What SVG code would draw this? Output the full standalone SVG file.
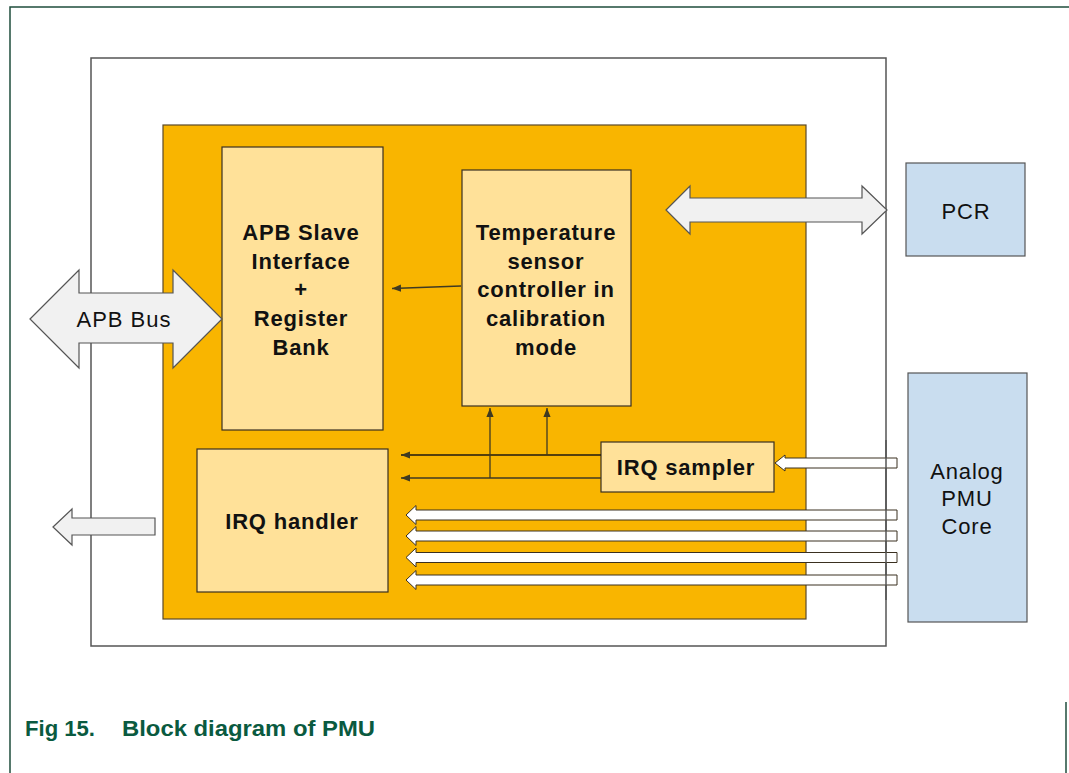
<svg xmlns="http://www.w3.org/2000/svg" width="1069" height="773" viewBox="0 0 1069 773">
<defs>
<style>
.frame{fill:none;stroke:#1f4d3d;stroke-width:1.5}
.box{fill:#ffffff;stroke:#555;stroke-width:1.5}
.core{fill:#f9b500;stroke:#5a4a2a;stroke-width:1.2}
.blk{fill:#ffe199;stroke:#3a3020;stroke-width:1.2}
.ext{fill:#c9ddef;stroke:#555;stroke-width:1.2}
.big{fill:#f1f1f1;stroke:#555;stroke-width:1.2}
.hol{fill:#ffffff;stroke:#3a3020;stroke-width:1}
.ln{fill:none;stroke:#3f3a22;stroke-width:1.3}
.bt{font-family:"Liberation Sans",Arial,sans-serif;font-weight:bold;font-size:22px;letter-spacing:0.8px;fill:#111;text-anchor:middle}
.rt{font-family:"Liberation Sans",Arial,sans-serif;font-size:22px;letter-spacing:0.8px;fill:#111;text-anchor:middle}
.cap{font-family:"Liberation Sans",Arial,sans-serif;font-weight:bold;font-size:22px;fill:#0a5a40}
</style>
<marker id="ah" viewBox="0 0 10 10" refX="10" refY="5" markerWidth="9" markerHeight="9" markerUnits="userSpaceOnUse" orient="auto">
<path d="M0,1 L10,5 L0,9 Z" fill="#3f3a22"/>
</marker>
</defs>
<path class="frame" d="M10,773 L10,7 L1069,7"/>
<line class="frame" x1="1066" y1="702" x2="1066" y2="773"/>
<g id="pmu-outer"><rect class="box" x="91" y="58" width="795" height="588"/></g>
<g id="pmu-core"><rect class="core" x="163" y="125" width="643" height="494"/></g>
<g id="apb-slave">
<rect class="blk" x="222" y="147" width="161" height="283"/>
<text class="bt" x="301" y="240">APB Slave</text>
<text class="bt" x="301" y="269">Interface</text>
<text class="bt" x="301" y="297">+</text>
<text class="bt" x="301" y="326">Register</text>
<text class="bt" x="301" y="355">Bank</text>
</g>
<g id="temp-sensor">
<rect class="blk" x="462" y="170" width="169" height="236"/>
<text class="bt" x="546" y="240">Temperature</text>
<text class="bt" x="546" y="269">sensor</text>
<text class="bt" x="546" y="297">controller in</text>
<text class="bt" x="546" y="326">calibration</text>
<text class="bt" x="546" y="355">mode</text>
</g>
<g id="irq-handler">
<rect class="blk" x="197" y="449" width="191" height="143"/>
<text class="bt" x="292" y="529">IRQ handler</text>
</g>
<g id="irq-sampler">
<rect class="blk" x="601" y="442" width="173" height="50"/>
<text class="bt" x="686" y="475">IRQ sampler</text>
</g>
<g id="pcr">
<rect class="ext" x="906" y="163" width="119" height="93"/>
<text class="rt" x="966" y="219">PCR</text>
</g>
<g id="analog-pmu-core">
<rect class="ext" x="908" y="373" width="119" height="249"/>
<text class="rt" x="967" y="479">Analog</text>
<text class="rt" x="967" y="506">PMU</text>
<text class="rt" x="967" y="534">Core</text>
</g>
<g id="connectors">
<line class="ln" x1="461" y1="286" x2="392" y2="288.5" marker-end="url(#ah)"/>
<line class="ln" x1="601" y1="455" x2="401" y2="455" marker-end="url(#ah)" style="stroke:#1e1a10"/>
<line class="ln" x1="601" y1="478" x2="401" y2="478" marker-end="url(#ah)"/>
<line class="ln" x1="490" y1="478" x2="490" y2="408" marker-end="url(#ah)"/>
<line class="ln" x1="547" y1="455" x2="547" y2="408" marker-end="url(#ah)"/>
<polygon class="hol" points="775,463 785,455 785,458 897,458 897,468 785,468 785,471"/>
<polygon class="hol" points="406,515 416,505.5 416,510 897,510 897,520 416,520 416,524.5"/>
<polygon class="hol" points="406,536 416,526.5 416,531 897,531 897,541 416,541 416,545.5"/>
<polygon class="hol" points="406,557.5 416,548 416,552.5 897,552.5 897,562.5 416,562.5 416,567"/>
<polygon class="hol" points="406,580 416,570.5 416,575 897,575 897,585 416,585 416,589.5"/>
<line x1="886" y1="440" x2="886" y2="600" stroke="#555" stroke-width="1.5"/>
<polygon class="big" points="30,319 79,270 79,293 173,293 173,270 222,319 173,368 173,343 79,343 79,368"/>
<polygon class="big" points="666,210 690,186 690,198 862,198 862,186 887,210 862,234 862,222 690,222 690,234"/>
<polygon class="big" points="53,527 72,509 72,518 155,518 155,535 72,535 72,545"/>
</g>
<text class="rt" x="124" y="327" style="letter-spacing:1px">APB Bus</text>
<text class="cap" x="25" y="736" textLength="70" lengthAdjust="spacingAndGlyphs">Fig 15.</text>
<text class="cap" x="122" y="736" textLength="253" lengthAdjust="spacingAndGlyphs">Block diagram of PMU</text>
</svg>
